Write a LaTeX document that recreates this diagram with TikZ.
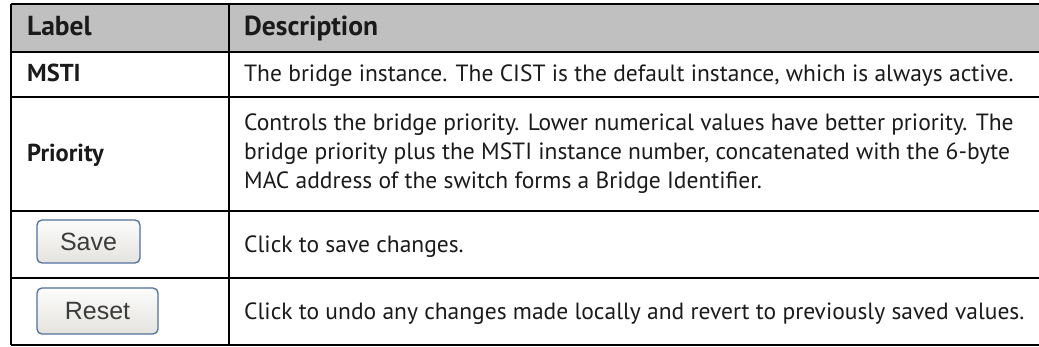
\documentclass[tikz,border=0pt]{standalone}
\usepackage{fontspec}
\setmainfont{PT Sans}
\newfontfamily\btnfont{Liberation Sans}
\usetikzlibrary{positioning}
\definecolor{hdrgray}{HTML}{C0C0C0}
\definecolor{btnedge}{HTML}{4F7099}
\definecolor{btntop}{HTML}{FCFCFB}
\definecolor{btnbot}{HTML}{E4E3DE}
\definecolor{ink}{HTML}{1A1A1A}
\tikzset{
    x=1pt,
    y=-1pt,
    rule/.style = {
        line width=2.8pt
    },
    head/.style = {
        anchor=base west,
        inner sep=0pt,
        text=ink,
        font=\fontsize{27.5}{30}\selectfont\bfseries
    },
    label/.style = {
        anchor=base west,
        inner sep=0pt,
        text=ink,
        font=\fontsize{24.5}{29}\selectfont\bfseries
    },
    desc/.style = {
        anchor=base west,
        inner sep=0pt,
        text=ink,
        align=left,
        font=\fontsize{23.5}{29}\selectfont
    },
    button/.style = {
        draw=btnedge,
        line width=1.3pt,
        rounded corners=5pt,
        top color=btntop,
        bottom color=btnbot,
        inner sep=0pt,
        text=ink!85,
        font=\btnfont\fontsize{25}{25}\selectfont
    },
}
\begin{document}
\begin{tikzpicture}
                \useasboundingbox (0,0) rectangle (1039,347);
                \fill[hdrgray] (11,4) rectangle (1039,52);

                % table rules
                \path[draw, rule] (11,4) -- (1039,4);
                \path[draw, rule] (11,52) -- (1039,52);
                \path[draw, rule] (11,97) -- (1039,97);
                \path[draw, rule] (11,211) -- (1039,211);
                \path[draw, rule] (11,278) -- (1039,278);
                \path[draw, rule] (11,345) -- (1039,345);
                \path[draw, rule] (11,4) -- (11,345);
                \path[draw, rule] (229,4) -- (229,345);

                \node[head] (hdrlabel) at (27,36) {Label};
                \node[head] (hdrdesc) at (244,36) {Description};

                \node[label] (msti) at (27,82) {MSTI};
                \node[desc] (mstidesc) at (244,82) {The bridge instance. The CIST is the default instance, which is always active.};

                \node[label] (prio) at (27,162) {Priority};
                \node[desc, anchor=west] (priodesc) at (244,154) {Controls the bridge priority. Lower numerical values have better priority. The\\bridge priority plus the MSTI instance number, concatenated with the 6-byte\\MAC address of the switch forms a Bridge Identifier.};

                \node[button, minimum width=103pt, minimum height=43pt] (save) at (88.5,241.5) {Save};
                \node[desc] (savedesc) at (244,253) {Click to save changes.};

                \node[button, minimum width=121pt, minimum height=46pt] (reset) at (97.5,311) {Reset};
                \node[desc] (resetdesc) at (244,320) {Click to undo any changes made locally and revert to previously saved values.};
            \end{tikzpicture}
\end{document}
